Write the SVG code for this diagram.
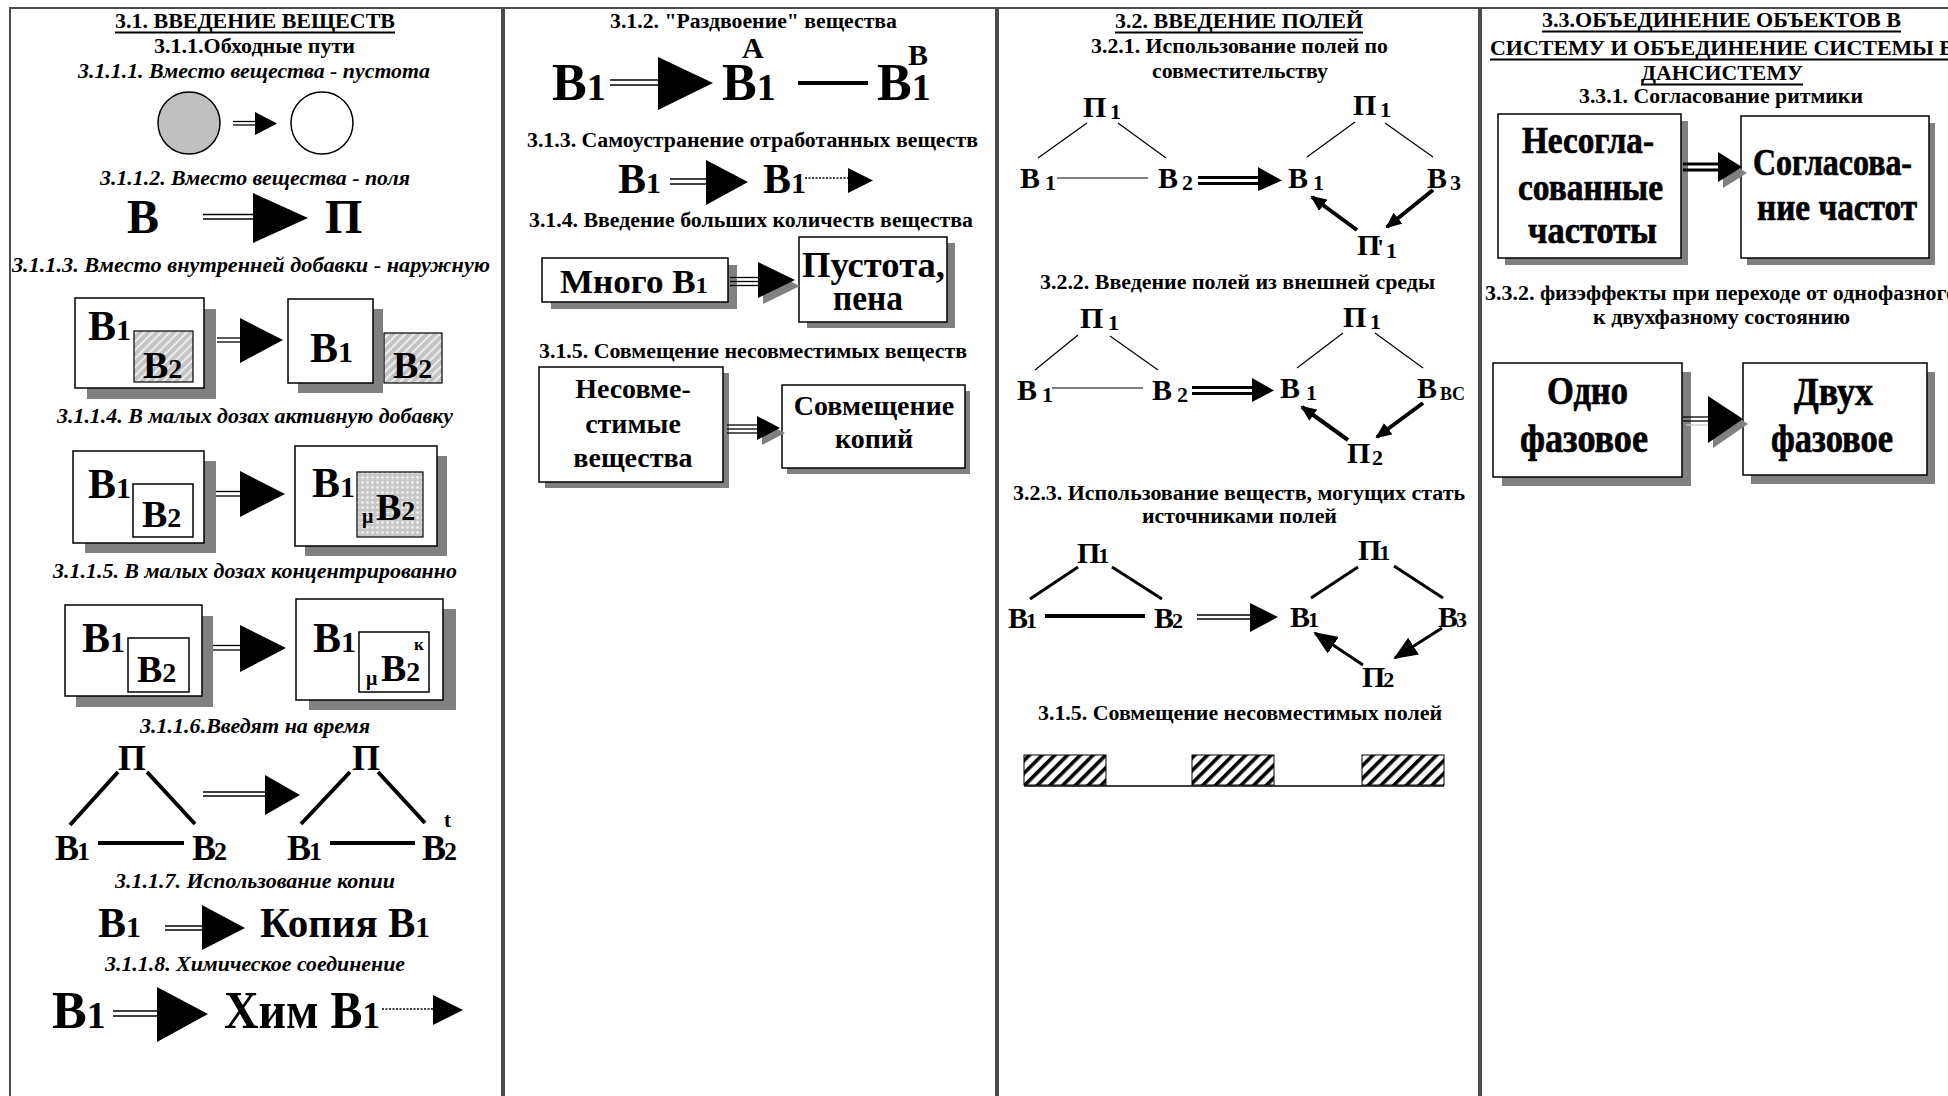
<svg xmlns="http://www.w3.org/2000/svg" width="1948" height="1096" viewBox="0 0 1948 1096">
<style>
  text { font-family: "Liberation Serif", "Times New Roman", serif; font-weight: bold; fill: #000; }
  .cap { font-size: 20px; }
  .it { font-style: italic; }
  .heavy { stroke: #000; stroke-width: 0.7; }
  .frame { fill: #fff; stroke: #4a4a4a; stroke-width: 2; }
  .box { fill: #fff; stroke: #000; stroke-width: 1.5; }
  .shadow { fill: #808080; }
  .ul { stroke: #000; stroke-width: 2; }
  .dbl { stroke: #000; stroke-width: 1.3; fill: none; }
  .thick2 { stroke: #000; stroke-width: 3.2; fill: none; }
  .head { fill: #000; }
  .hshadow { fill: #808080; }
  .thin { stroke: #000; stroke-width: 1.2; fill: none; }
  .bar { stroke: #000; stroke-width: 4; fill: none; }
  .bar3 { stroke: #000; stroke-width: 3; fill: none; }
  .dot { stroke: #000; stroke-width: 1.5; stroke-dasharray: 2 1.5; fill: none; }
</style>
<defs>
  <pattern id="hatchGrey" width="6" height="6" patternUnits="userSpaceOnUse" patternTransform="rotate(45)">
    <rect width="6" height="6" fill="#c4c4c4"/>
    <rect width="2" height="6" fill="#ececec"/>
  </pattern>
  <pattern id="dots" width="5" height="5" patternUnits="userSpaceOnUse">
    <rect width="5" height="5" fill="#c8c8c8"/>
    <circle cx="2.5" cy="2.5" r="1.3" fill="#f4f4f4"/>
  </pattern>
  <pattern id="hatchBlack" width="9" height="9" patternUnits="userSpaceOnUse" patternTransform="rotate(45)">
    <rect width="9" height="9" fill="#fff"/>
    <rect width="3.6" height="9" fill="#000"/>
  </pattern>
  <marker id="ah" markerUnits="userSpaceOnUse" markerWidth="16" markerHeight="14" refX="14" refY="7" orient="auto">
    <path d="M0,0 L16,7 L0,14 z" fill="#000"/>
  </marker>
  <marker id="ahBig" markerUnits="userSpaceOnUse" markerWidth="24" markerHeight="20" refX="22" refY="10" orient="auto">
    <path d="M0,0 L24,10 L0,20 z" fill="#000"/>
  </marker>
</defs>

<rect width="1948" height="1096" fill="#fff"/>

<!-- column frames -->
<g id="frames">
  <rect class="frame" x="10" y="8" width="492" height="1100"/>
  <rect class="frame" x="504" y="8" width="492" height="1100"/>
  <rect class="frame" x="998" y="8" width="481" height="1100"/>
  <rect class="frame" x="1481" y="8" width="480" height="1100"/>
</g>

<!-- section captions -->
<g id="captions">
  <text class="cap" x="115" y="28" textLength="280" lengthAdjust="spacingAndGlyphs">3.1. ВВЕДЕНИЕ ВЕЩЕСТВ</text>
  <line class="ul" x1="115" y1="32.5" x2="395" y2="32.5"/>
  <text class="cap" x="154" y="53" textLength="201" lengthAdjust="spacingAndGlyphs">3.1.1.Обходные пути</text>
  <text class="cap it" x="78" y="78" textLength="352" lengthAdjust="spacingAndGlyphs">3.1.1.1. Вместо вещества - пустота</text>
  <text class="cap it" x="100" y="185" textLength="310" lengthAdjust="spacingAndGlyphs">3.1.1.2. Вместо вещества - поля</text>
  <text class="cap it" x="12" y="272" textLength="478" lengthAdjust="spacingAndGlyphs">3.1.1.3. Вместо внутренней добавки - наружную</text>
  <text class="cap it" x="57" y="423" textLength="396" lengthAdjust="spacingAndGlyphs">3.1.1.4. В малых дозах активную добавку</text>
  <text class="cap it" x="53" y="578" textLength="404" lengthAdjust="spacingAndGlyphs">3.1.1.5. В малых дозах концентрированно</text>
  <text class="cap it" x="140" y="733" textLength="230" lengthAdjust="spacingAndGlyphs">3.1.1.6.Введят на время</text>
  <text class="cap it" x="115" y="888" textLength="280" lengthAdjust="spacingAndGlyphs">3.1.1.7. Использование копии</text>
  <text class="cap it" x="105" y="971" textLength="300" lengthAdjust="spacingAndGlyphs">3.1.1.8. Химическое соединение</text>

  <text class="cap" x="610" y="28" textLength="287" lengthAdjust="spacingAndGlyphs">3.1.2. "Раздвоение" вещества</text>
  <text class="cap" x="527" y="147" textLength="451" lengthAdjust="spacingAndGlyphs">3.1.3. Самоустранение отработанных веществ</text>
  <text class="cap" x="529" y="227" textLength="444" lengthAdjust="spacingAndGlyphs">3.1.4. Введение больших количеств вещества</text>
  <text class="cap" x="539" y="358" textLength="428" lengthAdjust="spacingAndGlyphs">3.1.5. Совмещение несовместимых веществ</text>

  <text class="cap" x="1115" y="28" textLength="248" lengthAdjust="spacingAndGlyphs">3.2. ВВЕДЕНИЕ ПОЛЕЙ</text>
  <line class="ul" x1="1115" y1="32.5" x2="1363" y2="32.5"/>
  <text class="cap" x="1091" y="53" textLength="297" lengthAdjust="spacingAndGlyphs">3.2.1. Использование полей по</text>
  <text class="cap" x="1152" y="78" textLength="176" lengthAdjust="spacingAndGlyphs">совместительству</text>
  <text class="cap" x="1040" y="289" textLength="395" lengthAdjust="spacingAndGlyphs">3.2.2. Введение полей из внешней среды</text>
  <text class="cap" x="1013" y="500" textLength="452" lengthAdjust="spacingAndGlyphs">3.2.3. Использование веществ, могущих стать</text>
  <text class="cap" x="1142" y="523" textLength="195" lengthAdjust="spacingAndGlyphs">источниками полей</text>
  <text class="cap" x="1038" y="720" textLength="404" lengthAdjust="spacingAndGlyphs">3.1.5. Совмещение несовместимых полей</text>

  <text class="cap" x="1542" y="27" textLength="359" lengthAdjust="spacingAndGlyphs">3.3.ОБЪЕДИНЕНИЕ ОБЪЕКТОВ В</text>
  <line class="ul" x1="1542" y1="31.5" x2="1901" y2="31.5"/>
  <text class="cap" x="1490" y="55" textLength="464" lengthAdjust="spacingAndGlyphs">СИСТЕМУ И ОБЪЕДИНЕНИЕ СИСТЕМЫ В</text>
  <line class="ul" x1="1490" y1="59.5" x2="1954" y2="59.5"/>
  <text class="cap" x="1641" y="80" textLength="162" lengthAdjust="spacingAndGlyphs">ДАНСИСТЕМУ</text>
  <line class="ul" x1="1641" y1="84.5" x2="1803" y2="84.5"/>
  <text class="cap" x="1579" y="103" textLength="284" lengthAdjust="spacingAndGlyphs">3.3.1. Согласование ритмики</text>
  <text class="cap" x="1485" y="300" textLength="472" lengthAdjust="spacingAndGlyphs">3.3.2. физэффекты при переходе от однофазного</text>
  <text class="cap" x="1593" y="324" textLength="257" lengthAdjust="spacingAndGlyphs">к двухфазному состоянию</text>
</g>

<!-- ===== column 3.1 nodes ===== -->
<g id="n-full-circle"><circle cx="189" cy="123" r="31" fill="#c0c0c0" stroke="#000" stroke-width="1.5"/></g>
<g id="n-empty-circle"><circle cx="322" cy="123" r="31" fill="#fff" stroke="#000" stroke-width="1.5"/></g>

<g id="n-subst-B"><text x="127" y="233" font-size="48">В</text></g>
<g id="n-field-P"><text x="325" y="233" font-size="48">П</text></g>

<g id="n-inner-add">
  <rect class="shadow" x="87" y="309" width="129" height="90"/>
  <rect class="box" x="75" y="298" width="129" height="90"/>
  <text x="88" y="340" font-size="42">В<tspan font-size="30">1</tspan></text>
  <rect x="134" y="331" width="59" height="51" fill="url(#hatchGrey)" stroke="#000" stroke-width="1.2"/>
  <text x="143" y="378" font-size="38">В<tspan font-size="28">2</tspan></text>
</g>
<g id="n-outer-add">
  <rect class="shadow" x="298" y="309" width="85" height="84"/>
  <rect class="box" x="288" y="299" width="85" height="84"/>
  <text x="310" y="362" font-size="42">В<tspan font-size="30">1</tspan></text>
  <rect x="384" y="333" width="58" height="50" fill="url(#hatchGrey)" stroke="#000" stroke-width="1.2"/>
  <text x="393" y="378" font-size="38">В<tspan font-size="28">2</tspan></text>
</g>

<g id="n-active-before">
  <rect class="shadow" x="85" y="461" width="131" height="92"/>
  <rect class="box" x="73" y="451" width="131" height="92"/>
  <text x="88" y="498" font-size="42">В<tspan font-size="30">1</tspan></text>
  <rect class="box" x="133" y="484" width="60" height="53" stroke-width="1.2"/>
  <text x="142" y="527" font-size="38">В<tspan font-size="28">2</tspan></text>
</g>
<g id="n-active-after">
  <rect class="shadow" x="305" y="456" width="142" height="100"/>
  <rect class="box" x="295" y="446" width="142" height="100"/>
  <text x="312" y="497" font-size="42">В<tspan font-size="30">1</tspan></text>
  <rect x="357" y="472" width="66" height="65" fill="url(#dots)" stroke="#000" stroke-width="1.2"/>
  <text x="362" y="523" font-size="20">μ</text>
  <text x="376" y="520" font-size="38">В<tspan font-size="28">2</tspan></text>
</g>

<g id="n-conc-before">
  <rect class="shadow" x="76" y="616" width="137" height="91"/>
  <rect class="box" x="65" y="605" width="137" height="91"/>
  <text x="82" y="652" font-size="42">В<tspan font-size="30">1</tspan></text>
  <rect class="box" x="128" y="638" width="61" height="54" stroke-width="1.2"/>
  <text x="137" y="682" font-size="38">В<tspan font-size="28">2</tspan></text>
</g>
<g id="n-conc-after">
  <rect class="shadow" x="309" y="609" width="147" height="101"/>
  <rect class="box" x="296" y="599" width="147" height="101"/>
  <text x="313" y="652" font-size="42">В<tspan font-size="30">1</tspan></text>
  <rect class="box" x="359" y="632" width="70" height="60" stroke-width="1.2"/>
  <text x="366" y="685" font-size="20">μ</text>
  <text x="381" y="681" font-size="38">В<tspan font-size="28">2</tspan></text>
  <text x="414" y="650" font-size="17">к</text>
</g>

<g id="n-time-before">
  <text x="118" y="770" font-size="36">П</text>
  <text x="55" y="860" font-size="36">В<tspan font-size="26" dx="-2">1</tspan></text>
  <text x="192" y="860" font-size="36">В<tspan font-size="26" dx="-2">2</tspan></text>
</g>
<g id="n-time-after">
  <text x="352" y="770" font-size="36">П</text>
  <text x="287" y="860" font-size="36">В<tspan font-size="26" dx="-2">1</tspan></text>
  <text x="422" y="860" font-size="36">В<tspan font-size="26" dx="-2">2</tspan></text>
  <text x="444" y="827" font-size="21">t</text>
</g>

<g id="n-copy-src"><text x="98" y="937" font-size="42">В<tspan font-size="30">1</tspan></text></g>
<g id="n-copy"><text x="260" y="937" font-size="42" textLength="170" lengthAdjust="spacingAndGlyphs">Копия В<tspan font-size="30">1</tspan></text></g>

<g id="n-chem-src"><text x="52" y="1028" font-size="52">В<tspan font-size="38">1</tspan></text></g>
<g id="n-chem"><text x="224" y="1028" font-size="52" textLength="156" lengthAdjust="spacingAndGlyphs">Хим В<tspan font-size="38">1</tspan></text></g>

<!-- ===== column 3.1.2 - 3.1.5 nodes ===== -->
<g id="n-split-src"><text x="552" y="100" font-size="52">В<tspan font-size="38">1</tspan></text></g>
<g id="n-split-a">
  <text x="722" y="100" font-size="52">В<tspan font-size="38">1</tspan></text>
  <text x="742" y="58" font-size="30">А</text>
</g>
<g id="n-split-b">
  <text x="877" y="100" font-size="52">В<tspan font-size="38">1</tspan></text>
  <text x="908" y="65" font-size="30">В</text>
</g>

<g id="n-self-src"><text x="618" y="193" font-size="42">В<tspan font-size="30">1</tspan></text></g>
<g id="n-self-dst"><text x="763" y="193" font-size="42">В<tspan font-size="30">1</tspan></text></g>

<g id="n-many">
  <rect class="shadow" x="551" y="265" width="186" height="44"/>
  <rect class="box" x="542" y="258" width="186" height="44"/>
  <text x="560" y="293" font-size="34" textLength="148" lengthAdjust="spacingAndGlyphs">Много В<tspan font-size="24">1</tspan></text>
</g>
<g id="n-void">
  <rect class="shadow" x="807" y="243" width="148" height="85"/>
  <rect class="box" x="799" y="237" width="148" height="85"/>
  <text x="802" y="277" font-size="36" textLength="143" lengthAdjust="spacingAndGlyphs">Пустота,</text>
  <text x="833" y="310" font-size="36" textLength="70" lengthAdjust="spacingAndGlyphs">пена</text>
</g>

<g id="n-incompat">
  <rect class="shadow" x="545" y="373" width="184" height="115"/>
  <rect class="box" x="539" y="367" width="184" height="115"/>
  <text x="633" y="398" font-size="28" text-anchor="middle">Несовме-</text>
  <text x="633" y="433" font-size="28" text-anchor="middle">стимые</text>
  <text x="633" y="467" font-size="28" text-anchor="middle">вещества</text>
</g>
<g id="n-copies">
  <rect class="shadow" x="787" y="391" width="183" height="83"/>
  <rect class="box" x="782" y="385" width="183" height="83"/>
  <text x="874" y="415" font-size="28" text-anchor="middle">Совмещение</text>
  <text x="874" y="448" font-size="28" text-anchor="middle">копий</text>
</g>

<!-- ===== column 3.2 nodes ===== -->
<g id="n-321-left">
  <text x="1083" y="117" font-size="30">П</text><text x="1110" y="119" font-size="22">1</text>
  <text x="1020" y="188" font-size="30">В</text><text x="1045" y="190" font-size="22">1</text>
  <text x="1158" y="188" font-size="30">В</text><text x="1182" y="190" font-size="22">2</text>
</g>
<g id="n-321-right">
  <text x="1353" y="115" font-size="30">П</text><text x="1380" y="117" font-size="22">1</text>
  <text x="1288" y="188" font-size="30">В</text><text x="1313" y="190" font-size="22">1</text>
  <text x="1427" y="188" font-size="30">В</text><text x="1450" y="190" font-size="22">3</text>
  <text x="1357" y="255" font-size="30">П<tspan font-size="24" dx="-3">'</tspan></text><text x="1386" y="258" font-size="22">1</text>
</g>

<g id="n-322-left">
  <text x="1080" y="328" font-size="30">П</text><text x="1108" y="330" font-size="22">1</text>
  <text x="1017" y="400" font-size="30">В</text><text x="1042" y="402" font-size="22">1</text>
  <text x="1152" y="400" font-size="30">В</text><text x="1177" y="402" font-size="22">2</text>
</g>
<g id="n-322-right">
  <text x="1343" y="327" font-size="30">П</text><text x="1370" y="329" font-size="22">1</text>
  <text x="1280" y="398" font-size="30">В</text><text x="1306" y="400" font-size="22">1</text>
  <text x="1417" y="398" font-size="30">В</text><text x="1440" y="400" font-size="18">ВС</text>
  <text x="1347" y="463" font-size="30">П</text><text x="1372" y="465" font-size="22">2</text>
</g>

<g id="n-323-left">
  <text x="1077" y="563" font-size="30">П<tspan font-size="22" dx="-2">1</tspan></text>
  <text x="1008" y="628" font-size="30">В<tspan font-size="22" dx="-2">1</tspan></text>
  <text x="1154" y="628" font-size="30">В<tspan font-size="22" dx="-2">2</tspan></text>
</g>
<g id="n-323-right">
  <text x="1358" y="560" font-size="30">П<tspan font-size="22" dx="-2">1</tspan></text>
  <text x="1290" y="627" font-size="30">В<tspan font-size="22" dx="-2">1</tspan></text>
  <text x="1438" y="627" font-size="30">В<tspan font-size="22" dx="-2">3</tspan></text>
  <text x="1362" y="687" font-size="30">П<tspan font-size="22" dx="-2">2</tspan></text>
</g>

<g id="n-fields-strip">
  <rect x="1024" y="755" width="82" height="30" fill="url(#hatchBlack)" stroke="#000" stroke-width="1"/>
  <rect x="1192" y="755" width="82" height="30" fill="url(#hatchBlack)" stroke="#000" stroke-width="1"/>
  <rect x="1362" y="755" width="82" height="30" fill="url(#hatchBlack)" stroke="#000" stroke-width="1"/>
  <line x1="1024" y1="786" x2="1444" y2="786" stroke="#000" stroke-width="1.5"/>
</g>

<!-- ===== column 3.3 nodes ===== -->
<g id="n-unmatched">
  <rect class="shadow" x="1505" y="121" width="183" height="144"/>
  <rect class="box" x="1498" y="114" width="183" height="144"/>
  <text class="heavy" x="1522" y="153" font-size="37" textLength="132" lengthAdjust="spacingAndGlyphs">Несогла-</text>
  <text class="heavy" x="1518" y="200" font-size="37" textLength="145" lengthAdjust="spacingAndGlyphs">сованные</text>
  <text class="heavy" x="1528" y="243" font-size="37" textLength="129" lengthAdjust="spacingAndGlyphs">частоты</text>
</g>
<g id="n-matched">
  <rect class="shadow" x="1747" y="123" width="188" height="142"/>
  <rect class="box" x="1741" y="116" width="188" height="142"/>
  <text class="heavy" x="1753" y="175" font-size="37" textLength="159" lengthAdjust="spacingAndGlyphs">Согласова-</text>
  <text class="heavy" x="1757" y="220" font-size="37" textLength="160" lengthAdjust="spacingAndGlyphs">ние частот</text>
</g>

<g id="n-one-phase">
  <rect class="shadow" x="1502" y="372" width="189" height="114"/>
  <rect class="box" x="1493" y="363" width="189" height="114"/>
  <text class="heavy" x="1547" y="404" font-size="40" textLength="81" lengthAdjust="spacingAndGlyphs">Одно</text>
  <text class="heavy" x="1520" y="452" font-size="40" textLength="128" lengthAdjust="spacingAndGlyphs">фазовое</text>
</g>
<g id="n-two-phase">
  <rect class="shadow" x="1751" y="372" width="184" height="112"/>
  <rect class="box" x="1743" y="363" width="184" height="112"/>
  <text class="heavy" x="1794" y="405" font-size="40" textLength="79" lengthAdjust="spacingAndGlyphs">Двух</text>
  <text class="heavy" x="1771" y="452" font-size="40" textLength="122" lengthAdjust="spacingAndGlyphs">фазовое</text>
</g>

<!-- ===== connectors ===== -->
<g id="connectors">
  <!-- 3.1.1.1 -->
  <line class="dbl" x1="233" y1="121.5" x2="256" y2="121.5"/><line class="dbl" x1="233" y1="125" x2="256" y2="125"/>
  <polygon class="head" points="255,112 277,123.5 255,135"/>
  <!-- 3.1.1.2 -->
  <line class="dbl" x1="203" y1="214.5" x2="255" y2="214.5"/><line class="dbl" x1="203" y1="219" x2="255" y2="219"/>
  <polygon class="head" points="253,193 308,218 253,243"/>
  <!-- 3.1.1.3 -->
  <line class="dbl" x1="217" y1="338" x2="241" y2="338"/><line class="dbl" x1="217" y1="342" x2="241" y2="342"/>
  <polygon class="head" points="240,318 283,340 240,363"/>
  <!-- 3.1.1.4 -->
  <line class="dbl" x1="216" y1="491.5" x2="241" y2="491.5"/><line class="dbl" x1="216" y1="496" x2="241" y2="496"/>
  <polygon class="head" points="240,471 285,494 240,517"/>
  <!-- 3.1.1.5 -->
  <line class="dbl" x1="213" y1="645.5" x2="241" y2="645.5"/><line class="dbl" x1="213" y1="650" x2="241" y2="650"/>
  <polygon class="head" points="240,625 286,648 240,672"/>
  <!-- 3.1.1.6 -->
  <line class="bar" x1="118" y1="772" x2="70" y2="825"/>
  <line class="bar" x1="147" y1="772" x2="195" y2="824"/>
  <line class="bar" x1="98" y1="843" x2="184" y2="843"/>
  <line class="dbl" x1="203" y1="792" x2="267" y2="792"/><line class="dbl" x1="203" y1="796" x2="267" y2="796"/>
  <polygon class="head" points="265,775 300,795 265,815"/>
  <line class="bar" x1="350" y1="772" x2="301" y2="824"/>
  <line class="bar" x1="378" y1="772" x2="425" y2="823"/>
  <line class="bar" x1="330" y1="843" x2="415" y2="843"/>
  <!-- 3.1.1.7 -->
  <line class="dbl" x1="165" y1="926" x2="203" y2="926"/><line class="dbl" x1="165" y1="930" x2="203" y2="930"/>
  <polygon class="head" points="202,905 245,928 202,950"/>
  <!-- 3.1.1.8 -->
  <line class="dbl" x1="113" y1="1011" x2="158" y2="1011"/><line class="dbl" x1="113" y1="1016" x2="158" y2="1016"/>
  <polygon class="head" points="157,987 208,1014 157,1042"/>
  <line class="dot" x1="382" y1="1009" x2="433" y2="1009"/>
  <polygon class="head" points="433,995 463,1010 433,1025"/>

  <!-- 3.1.2 -->
  <line class="dbl" x1="610" y1="80" x2="660" y2="80"/><line class="dbl" x1="610" y1="85" x2="660" y2="85"/>
  <polygon class="head" points="658,57 713,83 658,110"/>
  <line class="bar" x1="798" y1="83" x2="868" y2="83"/>
  <!-- 3.1.3 -->
  <line class="dbl" x1="670" y1="179" x2="707" y2="179"/><line class="dbl" x1="670" y1="184" x2="707" y2="184"/>
  <polygon class="head" points="706,160 748,182 706,205"/>
  <line class="dot" x1="805" y1="178" x2="848" y2="178"/>
  <polygon class="head" points="848,168 873,180.5 848,193"/>
  <!-- 3.1.4 -->
  <line class="dbl" x1="730" y1="277.5" x2="760" y2="277.5"/><line class="dbl" x1="730" y1="281.5" x2="760" y2="281.5"/><line class="dbl" x1="730" y1="285.5" x2="760" y2="285.5"/>
  <polygon class="hshadow" points="763,268 800,286 763,304"/>
  <polygon class="head" points="758,262 795,280 758,298"/>
  <!-- 3.1.5 -->
  <line class="dbl" x1="727" y1="425" x2="758" y2="425" stroke-width="2"/><line class="dbl" x1="727" y1="429" x2="758" y2="429" stroke-width="2"/><line class="dbl" x1="727" y1="433" x2="758" y2="433" stroke-width="2"/>
  <polygon class="hshadow" points="762,421 785,433 762,445"/>
  <polygon class="head" points="757,416 780,428 757,440"/>

  <!-- 3.2.1 -->
  <line class="thin" x1="1087" y1="123" x2="1038" y2="158"/>
  <line class="thin" x1="1118" y1="123" x2="1166" y2="158"/>
  <line class="thin" x1="1057" y1="178" x2="1148" y2="178"/>
  <line class="thick2" x1="1198" y1="177.5" x2="1260" y2="177.5"/><line class="thick2" x1="1198" y1="183.5" x2="1260" y2="183.5"/>
  <polygon class="head" points="1258,167 1282,180.5 1258,191"/>
  <line class="thin" x1="1355" y1="122" x2="1307" y2="157"/>
  <line class="thin" x1="1385" y1="123" x2="1433" y2="157"/>
  <line class="bar" x1="1357" y1="230" x2="1312" y2="197" marker-end="url(#ah)"/>
  <line class="bar" x1="1433" y1="190" x2="1387" y2="227" marker-end="url(#ah)"/>
  <!-- 3.2.2 -->
  <line class="thin" x1="1078" y1="335" x2="1035" y2="370"/>
  <line class="thin" x1="1110" y1="336" x2="1158" y2="370"/>
  <line class="thin" x1="1052" y1="388" x2="1143" y2="388"/>
  <line class="thick2" x1="1192" y1="387.5" x2="1254" y2="387.5"/><line class="thick2" x1="1192" y1="393.5" x2="1254" y2="393.5"/>
  <polygon class="head" points="1252,378 1274,390.5 1252,402"/>
  <line class="thin" x1="1343" y1="333" x2="1297" y2="368"/>
  <line class="thin" x1="1375" y1="333" x2="1423" y2="368"/>
  <line class="bar" x1="1348" y1="440" x2="1302" y2="407" marker-end="url(#ah)"/>
  <line class="bar" x1="1423" y1="403" x2="1377" y2="437" marker-end="url(#ah)"/>
  <!-- 3.2.3 -->
  <line class="bar3" x1="1078" y1="567" x2="1030" y2="599"/>
  <line class="bar3" x1="1112" y1="567" x2="1162" y2="599"/>
  <line class="bar" x1="1045" y1="616" x2="1145" y2="616"/>
  <line class="dbl" x1="1197" y1="615" x2="1252" y2="615"/><line class="dbl" x1="1197" y1="619" x2="1252" y2="619"/>
  <polygon class="head" points="1250,603 1278,617 1250,632"/>
  <line class="bar3" x1="1358" y1="567" x2="1311" y2="598"/>
  <line class="bar3" x1="1394" y1="566" x2="1443" y2="598"/>
  <line class="bar3" x1="1363" y1="665" x2="1315" y2="633" marker-end="url(#ahBig)"/>
  <line class="bar3" x1="1442" y1="628" x2="1395" y2="658" marker-end="url(#ahBig)"/>

  <!-- 3.3.1 -->
  <line class="thick2" x1="1683" y1="164" x2="1720" y2="164"/><line class="thick2" x1="1683" y1="170" x2="1720" y2="170"/>
  <polygon class="hshadow" points="1723,158 1747,173 1723,188"/>
  <polygon class="head" points="1718,152 1742,167 1718,182"/>
  <!-- 3.3.2 -->
  <line class="dbl" x1="1683" y1="417" x2="1709" y2="417"/><line class="dbl" x1="1683" y1="421" x2="1709" y2="421"/>
  <line x1="1686" y1="425" x2="1712" y2="425" stroke="#c8c8c8" stroke-width="1.3"/>
  <polygon class="hshadow" points="1713,401 1748,424 1713,448"/>
  <polygon class="head" points="1708,396 1743,419 1708,443"/>
</g>
</svg>
